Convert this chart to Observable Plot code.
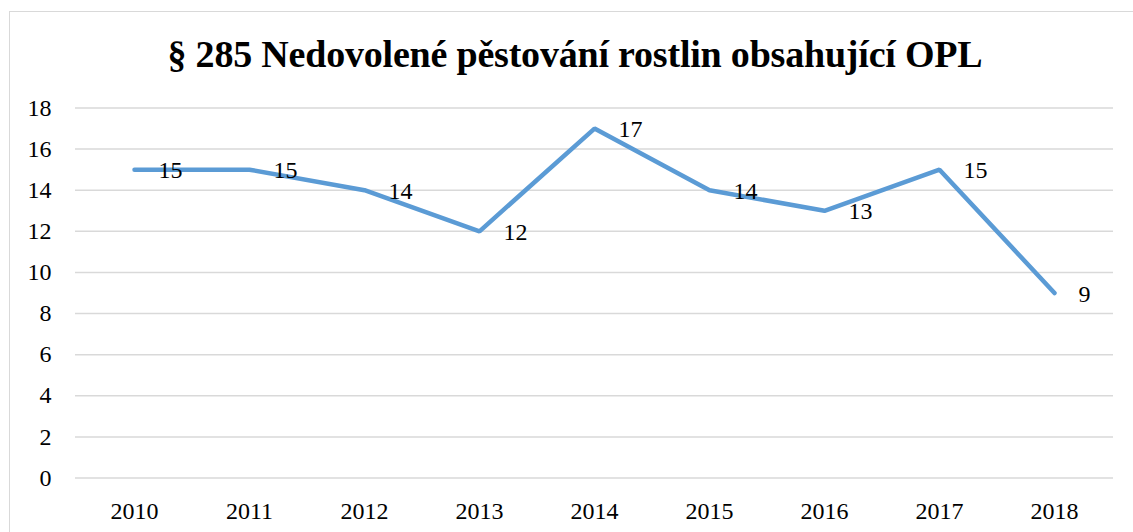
<!DOCTYPE html>
<html>
<head>
<meta charset="utf-8">
<script src="https://cdn.jsdelivr.net/npm/d3@7"></script>
<script src="https://cdn.jsdelivr.net/npm/@observablehq/plot@0.6"></script>
<style>
  html, body { margin: 0; padding: 0; background: #fff; overflow: hidden; }
  #wrap { position: relative; width: 1133px; height: 532px; }
  #frame { position: absolute; left: 9px; top: 11px; width: 1200px; height: 600px;
           border: 1.5px solid #d9d9d9; box-sizing: border-box; }
  #title { position: absolute; left: 0; top: 0; width: 1150px; height: 90px; text-align: center;
           font-family: 'Liberation Serif', 'Times New Roman', 'DejaVu Serif', serif; font-weight: bold;
           font-size: 38px; line-height: 108px; color: #000; letter-spacing: -0.2px; }
  #chart { position: absolute; left: 0; top: 90px; }
  #chart svg text { font-family: 'Liberation Serif', 'Times New Roman', 'DejaVu Serif', serif; }
</style>
</head>
<body>
<div id="wrap">
  <div id="frame"></div>
  <div id="title">§ 285 Nedovolené pěstování rostlin obsahující OPL</div>
  <div id="chart"></div>
</div>
<script>
const years = ["2010", "2011", "2012", "2013", "2014", "2015", "2016", "2017", "2018"];
const counts = [15, 15, 14, 12, 17, 14, 13, 15, 9];
const yTicks = [0, 2, 4, 6, 8, 10, 12, 14, 16, 18];

const data = years.map((y, i) => ({year: y, value: counts[i]}));
const font = "'Liberation Serif', 'Times New Roman', 'DejaVu Serif', serif";

const plot = Plot.plot({
  width: 1133,
  height: 442,
  marginLeft: 75,
  marginRight: 20,
  marginTop: 17.5,
  marginBottom: 54.5,
  style: {fontFamily: font, fontSize: "24px", color: "#000", background: "transparent"},
  x: {type: "point", domain: years, padding: 0.5, label: null},
  y: {domain: [0, 18], label: null},
  marks: [
    Plot.gridY(yTicks, {stroke: "#d9d9d9", strokeOpacity: 1, strokeWidth: 1.5}),
    Plot.axisY(yTicks, {tickSize: 0, tickPadding: 24, label: null, fontSize: 24}),
    Plot.axisX({tickSize: 0, tickPadding: 24, label: null, fontSize: 24}),
    Plot.line(data, {x: "year", y: "value", stroke: "#5b9bd5", strokeWidth: 4.5,
                     strokeLinecap: "round", strokeLinejoin: "miter"}),
    Plot.text(data, {x: "year", y: "value", text: d => String(d.value), textAnchor: "start",
                     dx: 24, dy: 1, fontSize: 24, fill: "#000"})
  ]
});
document.getElementById("chart").appendChild(plot);
</script>
</body>
</html>
